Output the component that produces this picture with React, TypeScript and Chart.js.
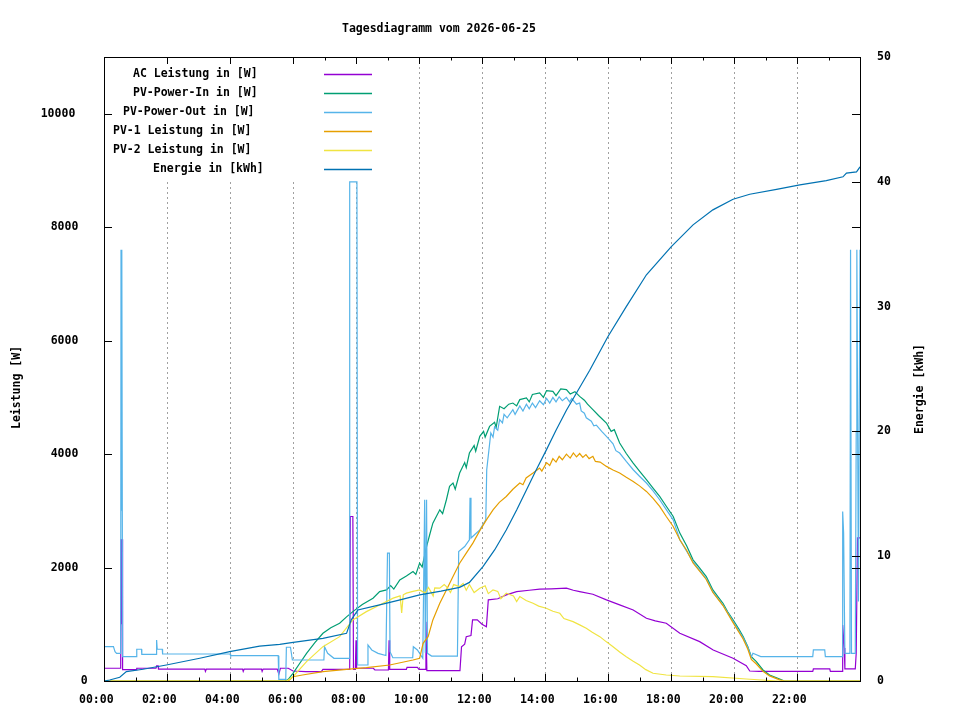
import { useEffect, useRef } from 'react';
import { Chart, registerables } from 'chart.js';

Chart.register(...registerables);

const acLeistung: [number, number][] = [
  [0, 225], [0.53, 225], [0.54, 2500], [0.56, 2500], [0.57, 1000], [0.58, 2500], [0.59, 200],
  [1.03, 200], [1.04, 225], [1.65, 225], [1.67, 265], [1.72, 265], [1.73, 210], [3.2, 210],
  [3.22, 170], [3.25, 210], [4.4, 210], [4.42, 170], [4.45, 210], [5.0, 210], [5.02, 170],
  [5.05, 210], [5.5, 210], [5.55, 120], [5.6, 225], [5.85, 225], [6.0, 176], [6.4, 165],
  [6.9, 165], [6.95, 206], [7.8, 206], [7.82, 2900], [7.9, 2900], [7.92, 206], [7.98, 206],
  [8.0, 720], [8.02, 225], [8.55, 225], [8.6, 194], [9.03, 194], [9.05, 720], [9.07, 206],
  [9.6, 206], [9.62, 240], [9.95, 240], [10.0, 206], [10.2, 206], [10.22, 1046], [10.25, 182],
  [11.3, 182], [11.35, 605], [11.45, 650], [11.5, 782], [11.65, 800], [11.7, 1077], [11.85, 1077],
  [12.0, 1000], [12.14, 958], [12.2, 1430], [12.5, 1450], [12.77, 1518], [13.1, 1576], [13.5, 1600],
  [13.83, 1618], [14.2, 1625], [14.68, 1636], [14.9, 1600], [15.1, 1576], [15.52, 1530],
  [15.95, 1430], [16.37, 1341], [16.8, 1253], [17.22, 1106], [17.5, 1060], [17.85, 1018],
  [18.28, 842], [18.91, 694], [19.34, 547], [19.97, 400], [20.39, 270], [20.5, 176], [20.8, 170],
  [22.5, 170], [22.52, 212], [23.04, 212], [23.06, 170], [23.43, 170], [23.45, 988], [23.5, 580],
  [23.52, 212], [23.85, 212], [23.88, 494], [23.92, 2524], [24, 2524],
];

const pvPowerIn: [number, number][] = [
  [0, 0], [5.75, 0], [5.85, 30], [6.0, 136], [6.2, 300], [6.43, 488], [6.7, 680], [6.95, 842],
  [7.2, 940], [7.48, 1018], [7.7, 1130], [7.9, 1223], [8.2, 1350], [8.54, 1460], [8.75, 1576],
  [8.97, 1606], [9.1, 1680], [9.2, 1620], [9.39, 1783], [9.6, 1850], [9.81, 1929], [9.9, 1880],
  [10.02, 2077], [10.1, 2010], [10.24, 2370], [10.35, 2600], [10.44, 2783], [10.55, 2900],
  [10.66, 3018], [10.75, 2950], [10.87, 3195], [10.97, 3430], [11.08, 3490], [11.15, 3380],
  [11.29, 3666], [11.45, 3850], [11.5, 3760], [11.6, 4019], [11.75, 4150], [11.8, 4050],
  [11.93, 4312], [12.05, 4400], [12.1, 4300], [12.24, 4488], [12.4, 4560], [12.45, 4470],
  [12.56, 4842], [12.7, 4800], [12.85, 4880], [12.98, 4900], [13.1, 4850], [13.2, 4960],
  [13.41, 4990], [13.5, 4920], [13.6, 5050], [13.83, 5078], [13.95, 5000], [14.05, 5120],
  [14.25, 5106], [14.35, 5030], [14.5, 5150], [14.68, 5136], [14.8, 5060], [14.95, 5100],
  [15.1, 5018], [15.25, 4950], [15.35, 4880], [15.52, 4783], [15.7, 4680], [15.95, 4548],
  [16.1, 4400], [16.2, 4430], [16.37, 4195], [16.58, 4010], [16.8, 3842], [17.0, 3700],
  [17.22, 3548], [17.43, 3400], [17.64, 3253], [17.85, 3080], [18.07, 2900], [18.28, 2607],
  [18.5, 2380], [18.7, 2136], [18.9, 2000], [19.12, 1841], [19.33, 1606], [19.5, 1480],
  [19.65, 1371], [19.8, 1220], [19.97, 1077], [20.15, 920], [20.29, 782], [20.44, 605],
  [20.55, 429], [20.71, 341], [20.92, 194], [21.13, 106], [21.45, 35], [21.6, 0], [24, 0],
];

const pvPowerOut: [number, number][] = [
  [0, 605], [0.3, 605], [0.35, 517], [0.4, 488], [0.53, 488], [0.54, 7600], [0.56, 3000],
  [0.57, 7600], [0.59, 430], [1.03, 430], [1.04, 560], [1.19, 560], [1.2, 471], [1.66, 471],
  [1.67, 724], [1.69, 560], [1.85, 560], [1.86, 476], [4.0, 476], [4.02, 447], [5.53, 447],
  [5.55, 30], [5.77, 30], [5.79, 595], [5.92, 595], [5.98, 370], [6.98, 370], [7.0, 605],
  [7.1, 488], [7.3, 400], [7.78, 400], [7.8, 8800], [8.03, 8800], [8.05, 282], [8.36, 282],
  [8.38, 635], [8.5, 547], [8.7, 488], [8.95, 450], [9.0, 2254], [9.06, 2254], [9.08, 517],
  [9.17, 410], [9.8, 410], [9.82, 605], [9.95, 547], [10.12, 400], [10.18, 3195], [10.2, 500],
  [10.24, 3195], [10.27, 488], [10.4, 440], [11.22, 440], [11.26, 2282], [11.45, 2370],
  [11.6, 2490], [11.62, 3230], [11.65, 2520], [11.93, 2665], [12.12, 2841], [12.15, 3724],
  [12.28, 4372], [12.35, 4300], [12.4, 4480], [12.5, 4420], [12.56, 4607], [12.65, 4550],
  [12.7, 4700], [12.8, 4640], [12.98, 4783], [13.05, 4700], [13.2, 4850], [13.3, 4760],
  [13.41, 4880], [13.5, 4800], [13.6, 4900], [13.7, 4820], [13.83, 4940], [13.95, 4870],
  [14.05, 4980], [14.15, 4900], [14.25, 5000], [14.35, 4920], [14.45, 5010], [14.55, 4940],
  [14.68, 5000], [14.78, 4920], [14.85, 4980], [15.0, 4880], [15.1, 4900], [15.15, 4760],
  [15.25, 4720], [15.31, 4640], [15.47, 4580], [15.55, 4500], [15.63, 4510], [15.8, 4400],
  [15.95, 4312], [16.05, 4250], [16.16, 4180], [16.25, 4060], [16.37, 4019], [16.58, 3870],
  [16.8, 3724], [17.0, 3610], [17.22, 3490], [17.43, 3350], [17.64, 3195], [17.85, 3020],
  [18.07, 2841], [18.28, 2490], [18.7, 2100], [19.12, 1800], [19.33, 1570], [19.65, 1340],
  [19.97, 1050], [20.29, 760], [20.44, 590], [20.55, 420], [20.6, 488], [20.85, 429],
  [22.5, 429], [22.52, 547], [22.88, 547], [22.9, 429], [23.43, 429], [23.45, 2988],
  [23.48, 2607], [23.52, 488], [23.68, 488], [23.7, 7600], [23.73, 488], [23.85, 488],
  [23.88, 4400], [23.9, 7600], [23.95, 1400], [24, 7600],
];

const pv1Leistung: [number, number][] = [
  [0, 0], [5.85, 0], [6.0, 76], [6.3, 106], [6.95, 165], [7.7, 206], [8.33, 235], [9.07, 282],
  [9.81, 370], [10.02, 400], [10.13, 665], [10.29, 782], [10.44, 1077], [10.66, 1371],
  [10.87, 1606], [11.08, 1841], [11.29, 2077], [11.5, 2254], [11.71, 2430], [11.93, 2650],
  [12.15, 2850], [12.35, 3018], [12.55, 3150], [12.77, 3253], [12.98, 3380], [13.2, 3490],
  [13.3, 3460], [13.4, 3580], [13.62, 3666], [13.83, 3754], [13.9, 3700], [14.05, 3850],
  [14.15, 3800], [14.25, 3920], [14.35, 3860], [14.45, 3960], [14.55, 3900], [14.68, 4000],
  [14.8, 3930], [14.9, 4020], [15.0, 3950], [15.1, 4010], [15.2, 3940], [15.3, 3990],
  [15.4, 3920], [15.52, 3960], [15.6, 3870], [15.75, 3860], [15.95, 3783], [16.16, 3720],
  [16.37, 3666], [16.58, 3590], [16.8, 3518], [17.0, 3440], [17.22, 3342], [17.43, 3220],
  [17.64, 3077], [17.85, 2900], [18.07, 2724], [18.28, 2490], [18.5, 2300], [18.7, 2080],
  [19.12, 1790], [19.33, 1560], [19.65, 1330], [19.97, 1030], [20.29, 740], [20.44, 560],
  [20.55, 380], [20.71, 300], [20.92, 170], [21.13, 90], [21.45, 20], [21.6, 0], [24, 0],
];

const pv2Leistung: [number, number][] = [
  [0, 0], [5.8, 0], [6.0, 76], [6.43, 341], [6.95, 605], [7.48, 782], [7.9, 1077], [8.33, 1223],
  [8.75, 1341], [9.18, 1460], [9.4, 1500], [9.45, 1200], [9.5, 1520], [9.6, 1548], [9.81, 1580],
  [10.02, 1606], [10.2, 1550], [10.3, 1650], [10.45, 1500], [10.5, 1640], [10.66, 1636],
  [10.8, 1700], [10.87, 1665], [11.0, 1560], [11.1, 1700], [11.29, 1665], [11.4, 1720],
  [11.5, 1600], [11.6, 1700], [11.75, 1560], [11.93, 1636], [12.1, 1680], [12.2, 1540],
  [12.35, 1606], [12.5, 1580], [12.6, 1450], [12.77, 1548], [13.0, 1500], [13.1, 1400],
  [13.2, 1488], [13.4, 1420], [13.62, 1371], [13.8, 1320], [14.04, 1283], [14.25, 1230],
  [14.47, 1194], [14.6, 1100], [14.89, 1047], [15.1, 990], [15.31, 930], [15.5, 860],
  [15.74, 782], [15.95, 690], [16.16, 605], [16.37, 510], [16.58, 429], [16.8, 350],
  [17.0, 282], [17.2, 200], [17.43, 136], [17.85, 106], [18.28, 88], [19.33, 76], [20.39, 35],
  [21.4, 0], [24, 0],
];

const energie: [number, number][] = [
  [0, 0], [0.18, 0.08], [0.5, 0.3], [0.71, 0.75], [1.24, 0.94], [1.98, 1.28], [3.04, 1.82],
  [3.99, 2.35], [4.94, 2.8], [5.58, 2.94], [5.95, 3.07], [6.53, 3.28], [6.95, 3.42], [7.7, 3.82],
  [7.85, 4.9], [8.06, 5.69], [8.75, 6.1], [9.4, 6.5], [10.02, 6.9], [10.7, 7.2], [11.29, 7.5],
  [11.6, 7.9], [12.03, 9.16], [12.4, 10.5], [12.77, 12.1], [13.1, 13.7], [13.41, 15.3],
  [13.7, 16.8], [14.04, 18.5], [14.35, 20.1], [14.68, 21.7], [15.05, 23.3], [15.42, 24.9],
  [16.0, 27.6], [16.58, 30.0], [17.22, 32.55], [18.01, 34.8], [18.7, 36.55], [19.33, 37.75],
  [19.97, 38.6], [20.5, 39.0], [21.35, 39.4], [22.09, 39.75], [22.93, 40.1], [23.46, 40.4],
  [23.57, 40.7], [23.89, 40.8], [24, 41.2],
];

const stundenTicks = [0, 2, 4, 6, 8, 10, 12, 14, 16, 18, 20, 22];
const leistungTicks = [0, 2000, 4000, 6000, 8000, 10000];
const energieTicks = [0, 10, 20, 30, 40, 50];

const titel = 'Tagesdiagramm vom 2026-06-25';
const FONT = 'bold 11.5px "DejaVu Sans Mono", monospace';

const series = [
  { label: 'AC Leistung in [W]', data: acLeistung, color: '#9400d3', axis: 'y' },
  { label: 'PV-Power-In in [W]', data: pvPowerIn, color: '#009e73', axis: 'y' },
  { label: 'PV-Power-Out in [W]', data: pvPowerOut, color: '#56b4e9', axis: 'y' },
  { label: 'PV-1 Leistung in [W]', data: pv1Leistung, color: '#e69f00', axis: 'y' },
  { label: 'PV-2 Leistung in [W]', data: pv2Leistung, color: '#f0e442', axis: 'y' },
  { label: 'Energie in [kWh]', data: energie, color: '#0072b2', axis: 'y2' },
];

const pad2 = (n: number) => String(n).padStart(2, '0');

// gnuplot-artiger Rahmen, Ticks, Beschriftungen und Key
const gnuplotLook = {
  id: 'gnuplotLook',
  afterDatasetsDraw(chart: any) {
    const { ctx, chartArea: a, scales } = chart;
    const sx = scales.x, sy = scales.y, sy2 = scales.y2;
    ctx.save();

    // Key (opak)
    ctx.fillStyle = '#ffffff';
    ctx.fillRect(a.left + 1, a.top + 1, 383 - a.left, 180 - a.top);
    ctx.font = FONT;
    ctx.textBaseline = 'alphabetic';
    ctx.textAlign = 'left';
    series.forEach((s, i) => {
      const ly = 74 + 19 * i;
      ctx.fillStyle = '#000';
      ctx.fillText(s.label, 313 - 10 * s.label.length, ly + 3);
      ctx.strokeStyle = s.color;
      ctx.lineWidth = 1.3;
      ctx.beginPath();
      ctx.moveTo(324, ly + 0.5);
      ctx.lineTo(372, ly + 0.5);
      ctx.stroke();
    });

    // Rahmen
    ctx.strokeStyle = '#000';
    ctx.lineWidth = 1;
    ctx.strokeRect(a.left + 0.5, a.top + 0.5, a.right - a.left, a.bottom - a.top);

    // Ticks
    ctx.beginPath();
    for (let h = 1; h < 24; h++) {
      const px = Math.round(sx.getPixelForValue(h)) + 0.5;
      const len = h % 2 ? 3.5 : 7;
      ctx.moveTo(px, a.bottom);
      ctx.lineTo(px, a.bottom - len);
      if (!(h % 2 && h < 6)) {
        ctx.moveTo(px, a.top);
        ctx.lineTo(px, a.top + len);
      }
    }
    leistungTicks.filter((v) => v > 0).forEach((v) => {
      const py = Math.round(sy.getPixelForValue(v)) + 0.5;
      ctx.moveTo(a.left, py);
      ctx.lineTo(a.left + 8, py);
      ctx.moveTo(a.right, py);
      ctx.lineTo(a.right - 8, py);
    });
    energieTicks.filter((v) => v > 0 && v < 50).forEach((v) => {
      const py = Math.round(sy2.getPixelForValue(v)) + 0.5;
      ctx.moveTo(a.right, py);
      ctx.lineTo(a.right - 8, py);
    });
    ctx.stroke();

    // Tick-Beschriftungen
    ctx.fillStyle = '#000';
    stundenTicks.forEach((h) => {
      const txt = pad2(h) + ':00';
      ctx.fillText(txt, sx.getPixelForValue(h) - 25, 702.5);
    });
    leistungTicks.forEach((v) => {
      const txt = String(v);
      ctx.fillText(txt, 90.7 - 10 * txt.length, sy.getPixelForValue(v) + 3);
    });
    energieTicks.forEach((v) => {
      ctx.fillText(String(v), 877, sy2.getPixelForValue(v) + 3);
    });

    // Titel
    ctx.fillText(titel, 342, 32);

    // Achsentitel
    const mid = (a.top + a.bottom) / 2;
    const yl = 'Leistung [W]';
    ctx.save();
    ctx.translate(19.5, mid + 5 * yl.length);
    ctx.rotate(-Math.PI / 2);
    ctx.fillText(yl, 0, 0);
    ctx.restore();
    const y2l = 'Energie [kWh]';
    ctx.save();
    ctx.translate(922.5, mid + 5 * y2l.length);
    ctx.rotate(-Math.PI / 2);
    ctx.fillText(y2l, 0, 0);
    ctx.restore();

    ctx.restore();
  },
};

const GRID = '#a0a0a0';

export default function App() {
  const canvasRef = useRef<HTMLCanvasElement>(null);
  const chartRef = useRef<Chart | null>(null);

  useEffect(() => {
    if (!canvasRef.current) return;
    if (chartRef.current) chartRef.current.destroy();

    chartRef.current = new Chart(canvasRef.current, {
      type: 'line',
      data: {
        datasets: series.map((s, i) => ({
          label: s.label,
          data: s.data.map(([x, y]) => ({ x, y })),
          borderColor: s.color,
          backgroundColor: s.color,
          borderWidth: 1.2,
          pointRadius: 0,
          tension: 0,
          fill: false,
          yAxisID: s.axis,
          order: series.length - 1 - i,
        })),
      },
      options: {
        responsive: false,
        animation: false,
        events: [],
        layout: { padding: { top: 57, left: 0, right: 0, bottom: 0 } },
        plugins: {
          legend: { display: false },
          title: { display: false },
          tooltip: { enabled: false },
        },
        scales: {
          x: {
            type: 'linear',
            min: 0,
            max: 24,
            ticks: { stepSize: 1, display: false },
            grid: {
              drawTicks: false,
              color: (c: any) => {
                const v = c.tick?.value;
                return v > 0 && v < 24 && v % 2 === 0 ? GRID : 'transparent';
              },
            },
            border: { display: false, dash: [2, 3] },
            afterFit: (s: any) => { s.height = 39; },
          },
          y: {
            type: 'linear',
            position: 'left',
            min: 0,
            max: 11000,
            ticks: { stepSize: 2000, display: false },
            grid: {
              drawTicks: false,
              color: (c: any) => {
                const v = c.tick?.value;
                return v > 0 && v < 11000 && v % 2000 === 0 ? GRID : 'transparent';
              },
            },
            border: { display: false, dash: [2, 3] },
            afterFit: (s: any) => { s.width = 104; },
          },
          y2: {
            type: 'linear',
            position: 'right',
            min: 0,
            max: 50,
            ticks: { stepSize: 10, display: false },
            grid: { drawOnChartArea: false, drawTicks: false },
            border: { display: false },
            afterFit: (s: any) => { s.width = 100; },
          },
        },
      },
      plugins: [gnuplotLook],
    });

    return () => chartRef.current?.destroy();
  }, []);

  return (
    <div style={{ position: 'absolute', left: 0, top: 0, width: 960, height: 720, background: '#fff' }}>
      <canvas ref={canvasRef} width={960} height={720} style={{ display: 'block' }} />
    </div>
  );
}
